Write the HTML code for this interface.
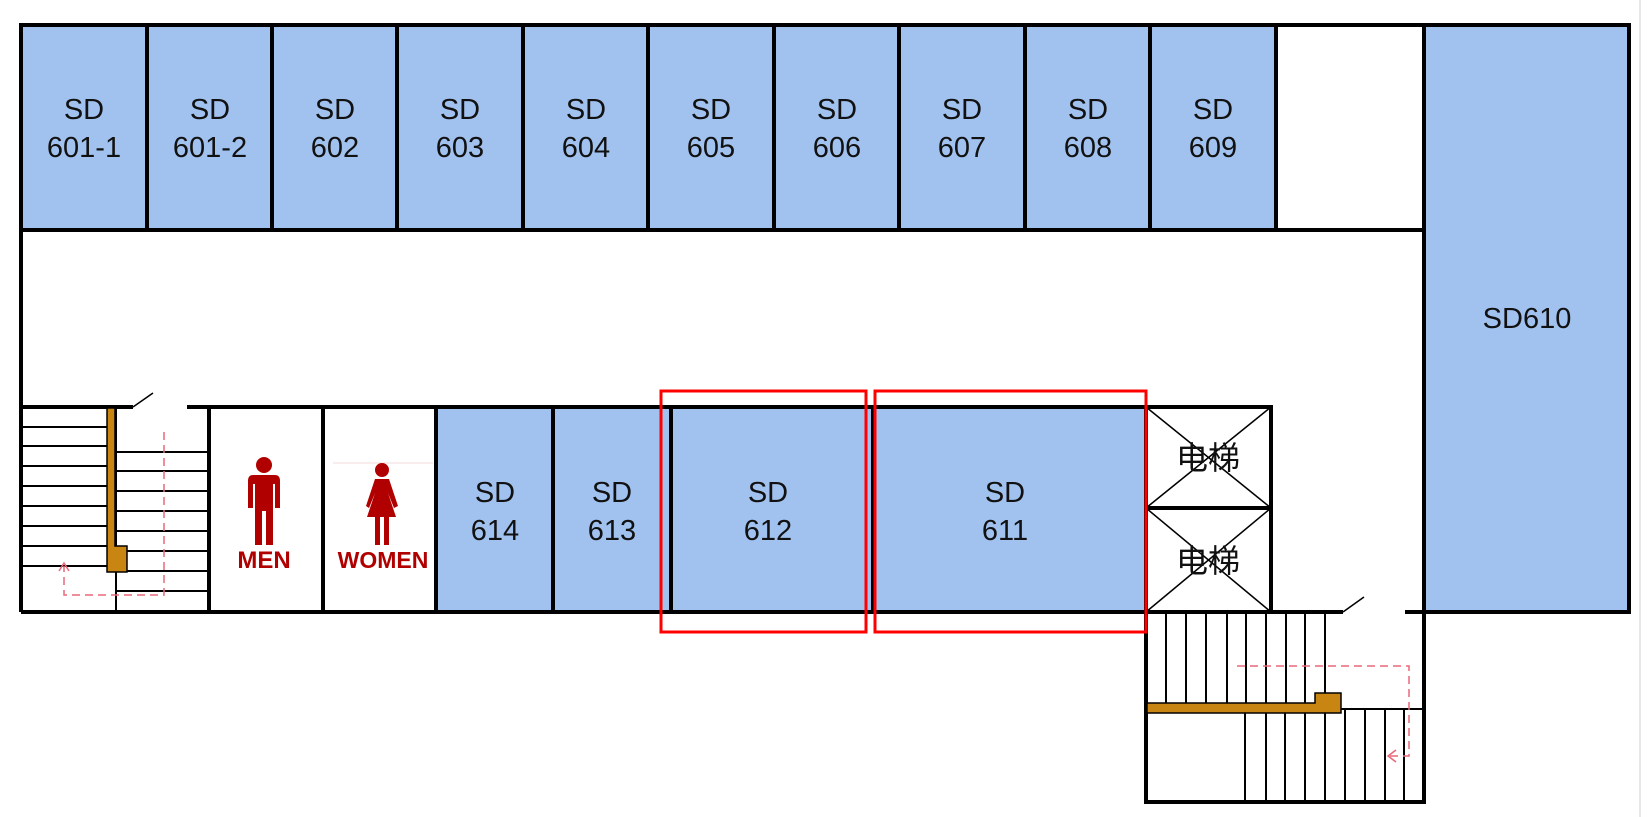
<!DOCTYPE html>
<html><head><meta charset="utf-8"><style>
html,body{margin:0;padding:0;background:#fff;}
svg{display:block;}
text{font-family:"Liberation Sans","Noto Sans CJK SC",sans-serif;fill:#111;}
</style></head><body>
<svg width="1651" height="817" viewBox="0 0 1651 817" xmlns="http://www.w3.org/2000/svg">
<line x1="1640" y1="0" x2="1640" y2="817" stroke="#ddd" stroke-width="1.5"/>
<g fill="#a1c1ee" stroke="#000" stroke-width="4">
<rect x="21" y="25" width="126" height="205"/>
<rect x="147" y="25" width="125" height="205"/>
<rect x="272" y="25" width="125" height="205"/>
<rect x="397" y="25" width="126" height="205"/>
<rect x="523" y="25" width="125" height="205"/>
<rect x="648" y="25" width="126" height="205"/>
<rect x="774" y="25" width="125" height="205"/>
<rect x="899" y="25" width="126" height="205"/>
<rect x="1025" y="25" width="125" height="205"/>
<rect x="1150" y="25" width="126" height="205"/>
<rect x="1424" y="25" width="205" height="587"/>
<rect x="436" y="407" width="117" height="205"/>
<rect x="553" y="407" width="118" height="205"/>
<rect x="671" y="407" width="202" height="205"/>
<rect x="873" y="407" width="273" height="205"/>
</g>
<g stroke="#000" stroke-width="4" fill="none">
<line x1="1276" y1="25" x2="1424" y2="25"/>
<line x1="1276" y1="230" x2="1424" y2="230"/>
<line x1="21" y1="230" x2="21" y2="612"/>
<line x1="21" y1="407" x2="133" y2="407"/>
<line x1="187" y1="407" x2="1273" y2="407"/>
<line x1="21" y1="612" x2="1343" y2="612"/>
<line x1="1405" y1="612" x2="1424" y2="612"/>
<line x1="209" y1="407" x2="209" y2="612"/>
<line x1="323" y1="407" x2="323" y2="612"/>
<line x1="1271" y1="407" x2="1271" y2="612"/>
<line x1="1146" y1="508" x2="1271" y2="508"/>
<polyline points="1146,612 1146,802 1424,802 1424,612"/>
</g>
<g stroke="#000" stroke-width="1.5">
<line x1="133" y1="407" x2="153" y2="393"/>
<line x1="1343" y1="612" x2="1364" y2="597"/>
<line x1="1146" y1="407" x2="1271" y2="508"/>
<line x1="1271" y1="407" x2="1146" y2="508"/>
<line x1="1146" y1="508" x2="1271" y2="612"/>
<line x1="1271" y1="508" x2="1146" y2="612"/>
</g>
<g stroke="#000" stroke-width="2">
<line x1="116" y1="407" x2="116" y2="612"/>
<line x1="21" y1="427" x2="107" y2="427"/><line x1="21" y1="446" x2="107" y2="446"/>
<line x1="21" y1="466" x2="107" y2="466"/><line x1="21" y1="486" x2="107" y2="486"/>
<line x1="21" y1="506" x2="107" y2="506"/><line x1="21" y1="526" x2="107" y2="526"/>
<line x1="21" y1="546" x2="107" y2="546"/><line x1="21" y1="566" x2="107" y2="566"/>
<line x1="116" y1="452" x2="209" y2="452"/><line x1="116" y1="471" x2="209" y2="471"/>
<line x1="116" y1="491" x2="209" y2="491"/><line x1="116" y1="511" x2="209" y2="511"/>
<line x1="116" y1="531" x2="209" y2="531"/><line x1="116" y1="551" x2="209" y2="551"/>
<line x1="116" y1="571" x2="209" y2="571"/><line x1="116" y1="591" x2="209" y2="591"/>
</g>
<path d="M107,408 H115 V546 H127 V572 H107 Z" fill="#c98512" stroke="#000" stroke-width="1.5"/>
<polyline points="164,432 164,595 64,595 64,566" stroke="#e86878" stroke-width="1.5" fill="none" stroke-dasharray="8,5"/>
<polyline points="59,571 64,563 69,571" stroke="#e86878" stroke-width="1.5" fill="none"/>
<g stroke="#000" stroke-width="2">
<line x1="1166" y1="613" x2="1166" y2="703"/><line x1="1186" y1="613" x2="1186" y2="703"/>
<line x1="1206" y1="613" x2="1206" y2="703"/><line x1="1227" y1="613" x2="1227" y2="703"/>
<line x1="1246" y1="613" x2="1246" y2="703"/><line x1="1266" y1="613" x2="1266" y2="703"/>
<line x1="1286" y1="613" x2="1286" y2="703"/><line x1="1305" y1="613" x2="1305" y2="703"/>
<line x1="1325" y1="613" x2="1325" y2="693"/>
<line x1="1341" y1="709" x2="1424" y2="709"/>
<line x1="1245" y1="713" x2="1245" y2="802"/><line x1="1266" y1="713" x2="1266" y2="802"/>
<line x1="1285" y1="713" x2="1285" y2="802"/><line x1="1305" y1="713" x2="1305" y2="802"/>
<line x1="1325" y1="713" x2="1325" y2="802"/><line x1="1345" y1="709" x2="1345" y2="802"/>
<line x1="1365" y1="709" x2="1365" y2="802"/><line x1="1385" y1="709" x2="1385" y2="802"/>
<line x1="1404" y1="709" x2="1404" y2="802"/>
</g>
<path d="M1147,703 H1315 V693 H1341 V713 H1147 Z" fill="#c98512" stroke="#000" stroke-width="1.5"/>
<polyline points="1237,666 1409,666 1409,756 1390,756" stroke="#e86878" stroke-width="1.5" fill="none" stroke-dasharray="8,5"/>
<polyline points="1396,750 1388,756 1396,762" stroke="#e86878" stroke-width="1.5" fill="none"/>
<rect x="661" y="391" width="205" height="241" fill="none" stroke="#f00" stroke-width="3"/>
<rect x="875" y="391" width="271" height="241" fill="none" stroke="#f00" stroke-width="3"/>
<line x1="333" y1="463" x2="433" y2="463" stroke="#f0dada" stroke-width="1"/>
<g fill="#b00000">
<circle cx="264" cy="465" r="8"/>
<path d="M253,475 H275 Q280,475 280,481 V508 H275 V484 H273 V545 H266 V511 H262 V545 H255 V484 H253 V508 H248 V481 Q248,475 253,475 Z"/>
<circle cx="382" cy="470" r="7"/>
<path d="M375,479 H389 L398,506 L394,508 L388,493 L396,517 H389 V545 H384 V517 H380 V545 H375 V517 H367 L375,493 L369,508 L366,506 Z"/>
</g>
<g font-weight="bold" text-anchor="middle">
<text x="264" y="568" font-size="24" style="fill:#b00000">MEN</text>
<text x="383" y="568" font-size="23" style="fill:#b00000">WOMEN</text>
</g>
<g font-size="29" text-anchor="middle">
<text x="84" y="119">SD</text><text x="84" y="157">601-1</text>
<text x="210" y="119">SD</text><text x="210" y="157">601-2</text>
<text x="335" y="119">SD</text><text x="335" y="157">602</text>
<text x="460" y="119">SD</text><text x="460" y="157">603</text>
<text x="586" y="119">SD</text><text x="586" y="157">604</text>
<text x="711" y="119">SD</text><text x="711" y="157">605</text>
<text x="837" y="119">SD</text><text x="837" y="157">606</text>
<text x="962" y="119">SD</text><text x="962" y="157">607</text>
<text x="1088" y="119">SD</text><text x="1088" y="157">608</text>
<text x="1213" y="119">SD</text><text x="1213" y="157">609</text>
<text x="1527" y="328">SD610</text>
<text x="495" y="502">SD</text><text x="495" y="540">614</text>
<text x="612" y="502">SD</text><text x="612" y="540">613</text>
<text x="768" y="502">SD</text><text x="768" y="540">612</text>
<text x="1005" y="502">SD</text><text x="1005" y="540">611</text>
</g>
<g font-size="32" text-anchor="middle">
<text x="1208" y="469">电梯</text>
<text x="1208" y="572">电梯</text>
</g>
</svg>
</body></html>
